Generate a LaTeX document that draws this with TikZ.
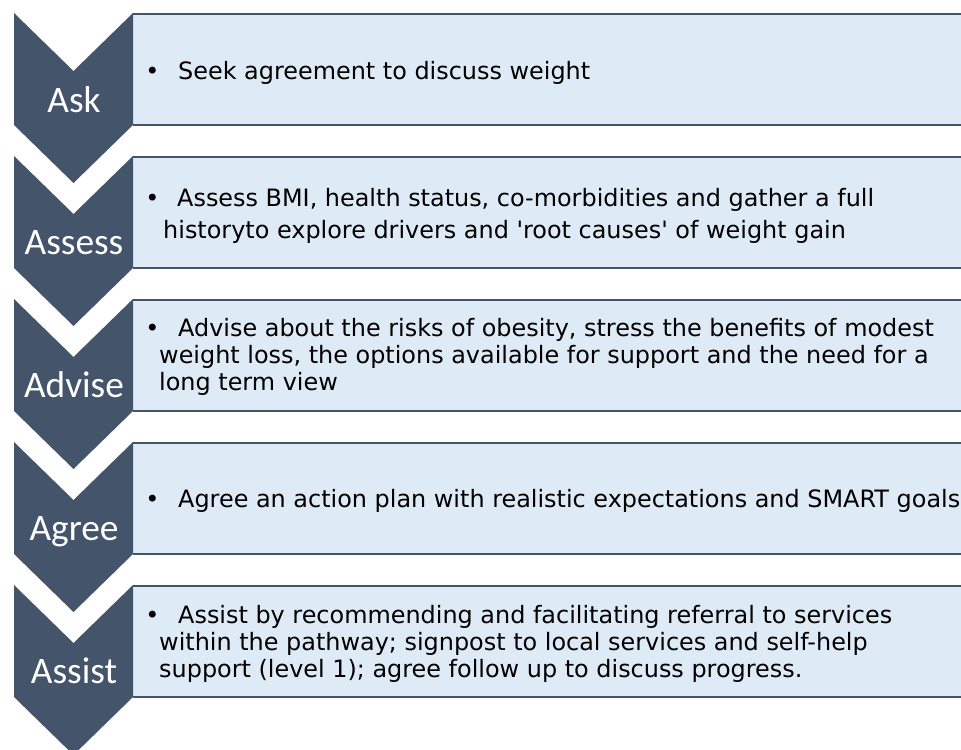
\documentclass[tikz,border=0pt]{standalone}
\usepackage{fontspec}
\setmainfont{DejaVu Sans}
\newfontfamily\labelfont{Carlito}
% body face loaded without the TeX quote mapping, so ' stays straight
\font\bodyface="DejaVu Sans" at 24pt
\definecolor{slate}{RGB}{68,84,106}
\definecolor{paleblue}{RGB}{222,235,247}
\begin{document}
\begin{tikzpicture}[x=1bp,y=-1bp,
  chev/.style={fill=slate,draw=none},
  panel/.style={fill=paleblue,draw=none},
  rule/.style={draw=slate,line width=2bp},
  steplabel/.style={font=\labelfont\fontsize{37.5}{40}\selectfont,text=white,anchor=base,inner sep=0pt},
  bul/.style={font=\bodyface,anchor=base,inner sep=0pt},
  txt/.style={font=\bodyface,anchor=base west,inner sep=0pt}]
\useasboundingbox (0,0) rectangle (961,750);
\clip (0,0) rectangle (961,750);
% five stages: panel top, panel bottom
\foreach \t/\b in {14/125, 157/268, 300/411, 443/554, 586/697}{
  \path[panel] (133,\t) rectangle (975,\b);
  \draw[rule] (133,\t) -- (975,\t);
  \draw[rule] (133,\b) -- (975,\b);
  \path[chev] (14,\t-1) -- (73.5,\t+57) -- (133,\t-1) -- (133,\b) -- (73.5,\b+58) -- (14,\b) -- cycle;
}
% stage names
\node[steplabel] (ask) at (74,112) {Ask};
\node[steplabel] (assess) at (74,254) {Assess};
\node[steplabel] (advise) at (74,397) {Advise};
\node[steplabel] (agree) at (74,540) {Agree};
\node[steplabel] (assist) at (74,683) {Assist};
% stage 1
\node[bul] (b1) at (152.5,80) {•};
\node[txt] (t1a) at (178,80) {Seek agreement to discuss weight};
% stage 2
\node[bul] (b2) at (152.5,206.7) {•};
\node[txt] (t2a) at (177,206.7) {Assess BMI, health status, co-morbidities and gather a full};
\node[txt] (t2b) at (163,238.3) {historyto explore drivers and 'root causes' of weight gain};
% stage 3
\node[bul] (b3) at (152.5,336.7) {•};
\node[txt] (t3a) at (178,336.7) {Advise about the risks of obesity, stress the benefits of modest};
\node[txt] (t3b) at (159,363.6) {weight loss, the options available for support and the need for a};
\node[txt] (t3c) at (159,390.5) {long term view};
% stage 4
\node[bul] (b4) at (152.5,507) {•};
\node[txt] (t4a) at (178,507) {Agree an action plan with realistic expectations and SMART goals};
% stage 5
\node[bul] (b5) at (152.5,623) {•};
\node[txt] (t5a) at (178,623) {Assist by recommending and facilitating referral to services};
\node[txt] (t5b) at (159,650.5) {within the pathway; signpost to local services and self-help};
\node[txt] (t5c) at (159,677.5) {support (level 1); agree follow up to discuss progress.};
\end{tikzpicture}
\end{document}
